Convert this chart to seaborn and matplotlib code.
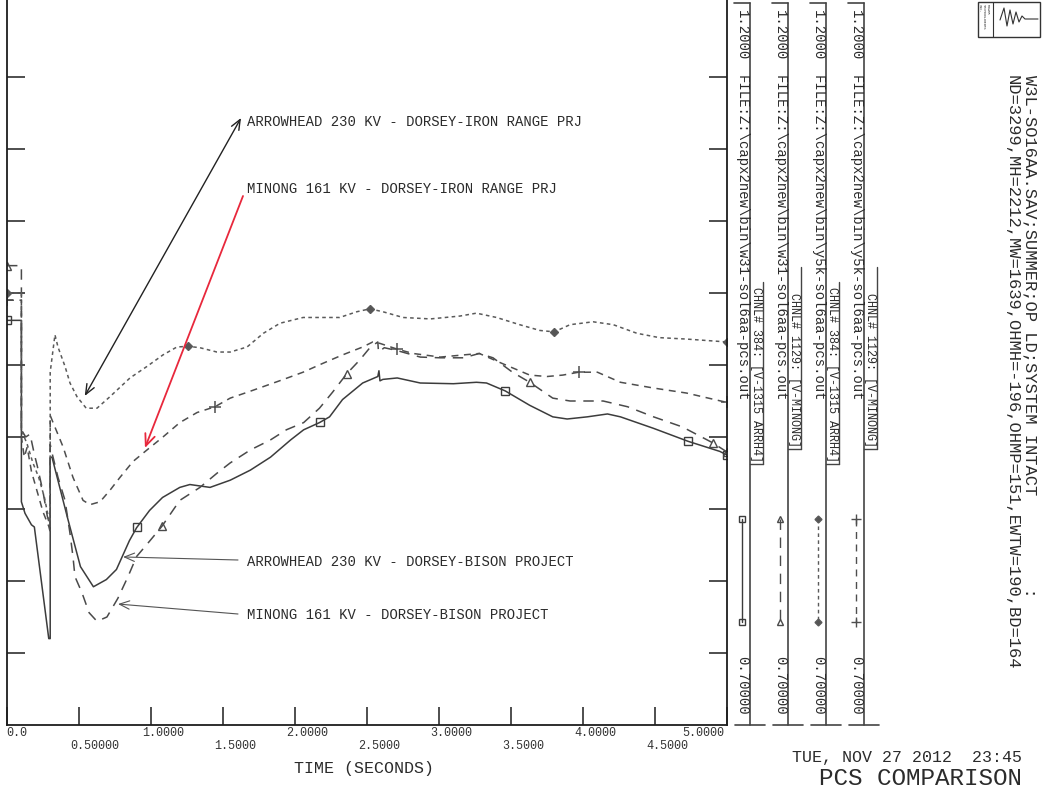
import numpy as np
import matplotlib
matplotlib.use("Agg")
import matplotlib.pyplot as plt
import seaborn as sns
from matplotlib.lines import Line2D
from matplotlib.patches import Rectangle
from matplotlib.transforms import ScaledTranslation

# ---------------------------------------------------------------- data
# ARRH4 230 kV, Dorsey-Bison case (w31)  -- solid, squares
t_arr_bison = [0.0, 0.1, 0.1, 0.125, 0.17, 0.19, 0.29, 0.30, 0.30, 0.3125, 0.42, 0.51,
               0.60, 0.69, 0.76, 0.85, 0.90, 0.99, 1.08, 1.20, 1.27, 1.41, 1.55, 1.69,
               1.83, 1.97, 2.06, 2.17, 2.24, 2.33, 2.47, 2.575, 2.583, 2.59, 2.61, 2.71,
               2.87, 3.10, 3.26, 3.33, 3.46, 3.63, 3.79, 3.89, 4.03, 4.17, 4.26, 4.49,
               4.73, 4.95, 5.0]
v_arr_bison = [0.981, 0.981, 0.855, 0.847, 0.839, 0.8375, 0.760, 0.760, 0.886, 0.886,
               0.844, 0.810, 0.796, 0.801, 0.808, 0.828, 0.837, 0.849, 0.858, 0.865,
               0.867, 0.865, 0.870, 0.877, 0.886, 0.898, 0.905, 0.910, 0.914, 0.926,
               0.9375, 0.942, 0.946, 0.939, 0.940, 0.941, 0.9375, 0.937, 0.938, 0.9375,
               0.932, 0.922, 0.914, 0.9125, 0.914, 0.916, 0.914, 0.906, 0.897, 0.890,
               0.8875]

# MINONG 161 kV, Dorsey-Bison case (w31)  -- long dash, triangles
t_min_bison = [0.0, 0.1, 0.1, 0.13, 0.16, 0.19, 0.21, 0.25, 0.28, 0.30, 0.30, 0.31,
               0.354, 0.403, 0.4375, 0.458, 0.472, 0.52, 0.57, 0.625, 0.694, 0.77,
               0.84, 0.90, 0.993, 1.076, 1.20, 1.34, 1.46, 1.55, 1.69, 1.83, 1.94,
               2.06, 2.17, 2.26, 2.36, 2.45, 2.52, 2.575, 2.58, 2.62, 2.71, 2.87,
               3.01, 3.17, 3.28, 3.375, 3.51, 3.63, 3.79, 3.91, 4.14, 4.31, 4.49,
               4.69, 4.90, 5.0]
v_min_bison = [1.019, 1.019, 0.905, 0.900, 0.902, 0.888, 0.880, 0.862, 0.845, 0.838,
               0.895, 0.890, 0.872, 0.856, 0.833, 0.817, 0.803, 0.792, 0.778, 0.772,
               0.775, 0.788, 0.803, 0.817, 0.828, 0.838, 0.856, 0.865, 0.875, 0.882,
               0.891, 0.898, 0.905, 0.910, 0.920, 0.931, 0.944, 0.9535, 0.962, 0.966,
               0.959, 0.962, 0.960, 0.9555, 0.955, 0.955, 0.958, 0.955, 0.945, 0.938,
               0.927, 0.925, 0.925, 0.921, 0.914, 0.907, 0.896, 0.8896]

# ARRH4 230 kV, Dorsey-Iron Range case (y5k)  -- fine dash, diamonds
t_arr_iron = [0.0, 0.1, 0.1, 0.14, 0.18, 0.22, 0.26, 0.30, 0.30, 0.333, 0.354, 0.403,
              0.4375, 0.486, 0.55, 0.625, 0.715, 0.854, 0.972, 1.083, 1.18, 1.257,
              1.34, 1.458, 1.55, 1.667, 1.78, 1.896, 2.056, 2.19, 2.31, 2.43, 2.52,
              2.61, 2.75, 2.94, 3.146, 3.26, 3.40, 3.56, 3.70, 3.80, 3.91, 4.07, 4.21,
              4.375, 4.53, 4.72, 5.0]
v_arr_iron = [1.000, 1.000, 0.905, 0.895, 0.882, 0.872, 0.858, 0.838, 0.945, 0.971,
              0.9625, 0.949, 0.9375, 0.928, 0.920, 0.920, 0.928, 0.941, 0.949, 0.957,
              0.9625, 0.963, 0.962, 0.959, 0.959, 0.9625, 0.972, 0.979, 0.983, 0.983,
              0.983, 0.987, 0.989, 0.987, 0.983, 0.982, 0.984, 0.986, 0.983, 0.978,
              0.974, 0.973, 0.978, 0.980, 0.978, 0.972, 0.969, 0.968, 0.966]

# MINONG 161 kV, Dorsey-Iron Range case (y5k)  -- medium dash, plus
t_min_iron = [0.0, 0.1, 0.1, 0.12, 0.14, 0.17, 0.21, 0.25, 0.29, 0.30, 0.30, 0.32,
              0.39, 0.458, 0.528, 0.576, 0.646, 0.715, 0.785, 0.875, 0.972, 1.083,
              1.20, 1.32, 1.444, 1.55, 1.667, 1.78, 1.92, 2.056, 2.19, 2.33, 2.47,
              2.54, 2.59, 2.71, 2.82, 3.01, 3.17, 3.28, 3.44, 3.63, 3.75, 3.86, 3.97,
              4.10, 4.26, 4.49, 4.72, 5.0]
v_min_iron = [0.995, 0.995, 0.900, 0.886, 0.893, 0.876, 0.862, 0.848, 0.838, 0.834,
              0.915, 0.910, 0.893, 0.872, 0.856, 0.853, 0.855, 0.863, 0.872, 0.883,
              0.891, 0.900, 0.910, 0.917, 0.921, 0.927, 0.931, 0.935, 0.940, 0.945,
              0.951, 0.957, 0.9625, 0.966, 0.965, 0.961, 0.958, 0.9555, 0.957, 0.958,
              0.951, 0.943, 0.942, 0.943, 0.945, 0.945, 0.938, 0.934, 0.9305, 0.924]

# symbol positions along each trace (seconds)
mark_arr_bison = [0.0, 0.903, 2.174, 3.458, 4.729, 5.0]
mark_min_bison = [0.0, 1.076, 2.36, 3.63, 4.90, 5.0]
mark_arr_iron = [0.0, 1.257, 2.52, 3.80, 5.0]
mark_min_iron = [0.0, 1.444, 2.71, 3.97, 5.0]

x_ticks = [0.0, 0.5, 1.0, 1.5, 2.0, 2.5, 3.0, 3.5, 4.0, 4.5, 5.0]
x_tick_labels = ["0.0", "0.50000", "1.0000", "1.5000", "2.0000", "2.5000",
                 "3.0000", "3.5000", "4.0000", "4.5000", "5.0000"]
y_ticks = [0.75, 0.80, 0.85, 0.90, 0.95, 1.00, 1.05, 1.10, 1.15]

files = ["FILE:Z:\\capx2new\\bin\\w31-sol6aa-pcs.out",
         "FILE:Z:\\capx2new\\bin\\w31-sol6aa-pcs.out",
         "FILE:Z:\\capx2new\\bin\\y5k-sol6aa-pcs.out",
         "FILE:Z:\\capx2new\\bin\\y5k-sol6aa-pcs.out"]
channels = ["CHNL# 384: [V-1315 ARRH4]", "CHNL# 1129: [V-MINONG]",
            "CHNL# 384: [V-1315 ARRH4]", "CHNL# 1129: [V-MINONG]"]
scale_max = "1.2000"
scale_min = "0.70000"

# ---------------------------------------------------------------- style
sns.set_theme(style="white")
plt.rcParams["font.family"] = ["Liberation Mono", "DejaVu Sans Mono"]
plt.rcParams["lines.scale_dashes"] = False

W, H = 1042, 788
fig = plt.figure(figsize=(W / 100, H / 100), dpi=100)
fig.patch.set_facecolor("white")


def fx(x):
    return x / W


def fy(y):
    return 1 - y / H


ax = fig.add_axes([fx(7), fy(725), 720 / W, 725 / H])
ax.set_facecolor("white")
ax.set_xlim(0, 5)
ax.set_ylim(0.7, 0.7 + 725 / 1440)

INK = "#2b2b2b"
series = [
    (t_arr_bison, v_arr_bison, mark_arr_bison, "-", "s", "#3c3c3c", 1.1),
    (t_min_bison, v_min_bison, mark_min_bison, (0, (7.5, 5.5)), "^", "#4a4a4a", 1.1),
    (t_arr_iron, v_arr_iron, mark_arr_iron, (0, (2.6, 2.4)), "D", "#5a5a5a", 1.1),
    (t_min_iron, v_min_iron, mark_min_iron, (0, (5, 4)), "+", "#4e4e4e", 1.1),
]

for t, v, mk, ls, m, c, lw in series:
    sns.lineplot(x=t, y=v, sort=False, estimator=None, ax=ax, color=c,
                 linewidth=lw, linestyle=ls)
    mv = np.interp(mk, t, v)
    if m == "+":
        ax.plot(mk, mv, ls="none", marker=m, ms=8, mew=1.1, color=c)
    elif m == "D":
        ax.plot(mk, mv, ls="none", marker=m, ms=4, mew=1.0, mfc="#555555", mec=c)
    else:
        ax.plot(mk, mv, ls="none", marker=m, ms=5.5, mew=1.0, mfc="none", mec=c)

# axes frame and ticks
for side in ["left", "bottom", "right"]:
    ax.spines[side].set_visible(True)
    ax.spines[side].set_color("#1e1e1e")
    ax.spines[side].set_linewidth(1.3)
ax.spines["top"].set_visible(False)
ax.set_xticks(x_ticks)
ax.set_yticks(y_ticks)
ax.tick_params(axis="x", direction="in", length=13, width=1.1, color="#1e1e1e",
               bottom=True, top=False, labelbottom=False)
ax.tick_params(axis="y", direction="in", length=13, width=1.1, color="#1e1e1e",
               left=True, right=True, labelleft=False, labelright=False)
ax.set_xlabel("")
ax.set_ylabel("")

# staggered time labels
xtr = ax.get_xaxis_transform()
for i, (xv, lab) in enumerate(zip(x_ticks, x_tick_labels)):
    row = i % 2
    if i == 0:
        dx, ha = -1, "left"
    elif i == len(x_ticks) - 1:
        dx, ha = -3, "right"
    else:
        dx, ha = -9, "left"
    off = ScaledTranslation(dx / 100, -(8 + 13 * row) / 100, fig.dpi_scale_trans)
    ax.text(xv, 0, lab, transform=xtr + off, ha=ha, va="center",
            fontsize=8.5, color="#333333")

fig.text(fx(364), fy(768), "TIME (SECONDS)", ha="center", va="center",
         fontsize=12, color=INK)

# curve call-outs
def callout(label, ty, start, tip, color, style, lw=1.0):
    fig.text(fx(247), fy(ty), label, ha="left", va="center", fontsize=10, color=INK)
    ax.annotate("", xy=tip, xycoords="data", xytext=(start[0], H - start[1]),
                textcoords="figure pixels",
                arrowprops=dict(arrowstyle=style, color=color, lw=lw,
                                shrinkA=0, shrinkB=0))


callout("ARROWHEAD 230 KV - DORSEY-IRON RANGE PRJ", 122, (241, 118),
        (0.54, 0.9285), "#222222", "<->,head_length=0.6,head_width=0.25")
callout("MINONG 161 KV - DORSEY-IRON RANGE PRJ", 189, (243, 196),
        (0.958, 0.8924), "#e8283c", "->,head_length=0.7,head_width=0.3", lw=1.3)
callout("ARROWHEAD 230 KV - DORSEY-BISON PROJECT", 562, (238, 560),
        (0.806, 0.8167), "#555555", "->,head_length=0.6,head_width=0.25", lw=0.8)
callout("MINONG 161 KV - DORSEY-BISON PROJECT", 615, (238, 614),
        (0.771, 0.784), "#555555", "->,head_length=0.6,head_width=0.25", lw=0.8)

# ---------------------------------------------------------------- channel key
def fline(xs, ys, **kw):
    fig.add_artist(Line2D([fx(x) for x in xs], [fy(y) for y in ys],
                          transform=fig.transFigure, **kw))


chan_end = [462, 447, 462, 447]
for i in range(4):
    xc = 742 + 38 * i
    t, v, mk, ls, m, c, lw = series[i]
    fig.text(fx(xc), fy(10), scale_max, rotation=270, rotation_mode="anchor",
             ha="left", va="center", fontsize=10, color=INK)
    fig.text(fx(xc), fy(75), files[i], rotation=270, rotation_mode="anchor",
             ha="left", va="center", fontsize=10, color=INK)
    fig.text(fx(xc), fy(656), scale_min, rotation=270, rotation_mode="anchor",
             ha="left", va="center", fontsize=10, color=INK)
    # column rule
    fline([xc + 8, xc + 8], [3, 725], color="#444444", lw=1.2)
    fline([xc - 8, xc + 8], [3, 3], color="#444444", lw=1.2)
    fline([xc - 7, xc + 23], [725, 725], color="#444444", lw=1.2)
    # boxed channel name
    ce = chan_end[i]
    fig.text(fx(xc + 14), fy(ce), channels[i], rotation=270, rotation_mode="anchor",
             ha="right", va="center", fontsize=8.5, color=INK)
    fline([xc + 21, xc + 21], [ce - 180, ce + 2], color="#444444", lw=1.0)
    fline([xc + 8, xc + 21], [ce + 2, ce + 2], color="#444444", lw=1.0)
    # line sample
    fline([xc, xc], [519, 622], color=c, lw=1.0, linestyle=ls)
    if m == "+":
        fline([xc, xc], [519, 622], ls="none", marker=m, ms=7, mew=1.0, color=c)
    elif m == "D":
        fline([xc, xc], [519, 622], ls="none", marker=m, ms=3.5, mfc="#555555", mec=c)
    else:
        fline([xc, xc], [519, 622], ls="none", marker=m, ms=5, mfc="none", mec=c)

# case description
fig.text(fx(1030), fy(75),
         "W3L-SO16AA.SAV;SUMMER;OP LD;SYSTEM INTACT         :",
         rotation=270, rotation_mode="anchor", ha="left", va="center",
         fontsize=12.3, color=INK)
fig.text(fx(1012), fy(75),
         "ND=3299,MH=2212,MW=1639,OHMH=-196,OHMP=151,EWTW=190,BD=164",
         rotation=270, rotation_mode="anchor", ha="left", va="center",
         fontsize=12.3, color=INK)

# vendor mark
fig.add_artist(Rectangle((fx(978), fy(37)), 62 / W, 35 / H, transform=fig.transFigure,
                         fill=False, ec="#333333", lw=1.0))
fline([993, 993], [2, 37], color="#333333", lw=0.8)
for k, word in enumerate(["POWER", "TECHNOLOGIES", "INC."]):
    fig.text(fx(988 - 4 * k), fy(4), word, rotation=270, rotation_mode="anchor",
             ha="left", va="center", fontsize=2.6, color="#333333")
fline([1000, 1004, 1007, 1010, 1013, 1016, 1019, 1022, 1025, 1038],
      [20, 8, 26, 10, 24, 12, 22, 16, 19, 19], color="#333333", lw=0.8)

# title block
fig.text(fx(1022), fy(762), "TUE, NOV 27 2012  23:45", ha="right", va="baseline",
         fontsize=12, color=INK)
fig.text(fx(1022), fy(785), "PCS COMPARISON", ha="right", va="baseline",
         fontsize=17.5, color=INK)

fig.savefig("out.png", dpi=100, facecolor="white")
